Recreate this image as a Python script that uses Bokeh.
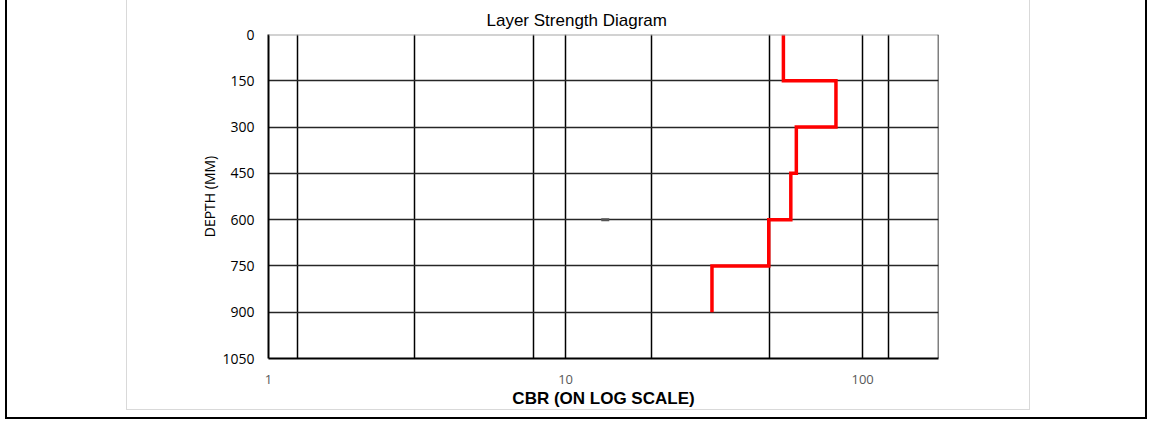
from bokeh.plotting import figure
from bokeh.layouts import column
from bokeh.models import FixedTicker, Span, PrintfTickFormatter, Range1d
from bokeh.embed import file_html
from bokeh.resources import INLINE

# ---- data ----
depth_ticks = [0, 150, 300, 450, 600, 750, 900, 1050]
cbr_tick_labels = [1, 10, 100]
cbr_gridlines = [1.25, 3.1, 7.8, 10, 19.5, 48.7, 100, 122]
layer_top = [0, 150, 300, 450, 600, 750]
layer_bottom = [150, 300, 450, 600, 750, 900]
layer_cbr = [54.1, 81.3, 59.8, 57.3, 48.3, 31.1]
marker_cbr = [13.6]
marker_depth = [600]

WP, HP = 904, 410

p = figure(width=WP, height=HP, x_axis_type="log",
           x_range=Range1d(1, 180), y_range=Range1d(1050, 0),
           output_backend="svg", toolbar_location=None,
           min_border_left=141, min_border_right=93,
           min_border_top=34, min_border_bottom=52,
           title="Layer Strength Diagram")
p.outline_line_color = None
p.background_fill_color = "white"
p.border_fill_color = "white"
p.styles = {"border-left": "1px solid #d9d9d9",
            "border-right": "1px solid #d9d9d9",
            "border-bottom": "1px solid #d9d9d9"}
p.margin = (0, 115, 7, 119)

# title
p.title.text_font = "Liberation Sans"
p.title.text_font_size = "17px"
p.title.text_font_style = "normal"
p.title.text_color = "black"
p.title.align = "left"
p.title.offset = 218
p.title.standoff = 9

# grids
p.xgrid.ticker = FixedTicker(ticks=cbr_gridlines)
p.xgrid.grid_line_color = "black"
p.xgrid.grid_line_width = 1.5
p.ygrid.ticker = FixedTicker(ticks=depth_ticks)
p.ygrid.grid_line_color = "#262626"
p.ygrid.grid_line_width = 1.5

# x axis
xa = p.xaxis[0]
xa.ticker = FixedTicker(ticks=cbr_tick_labels)
xa.formatter = PrintfTickFormatter(format="%d")
xa.major_tick_line_color = None
xa.minor_tick_line_color = None
xa.axis_line_color = "black"
xa.axis_line_width = 2
xa.major_label_text_font = "Open Sans"
xa.major_label_text_font_size = "13px"
xa.major_label_text_color = "#595959"
xa.major_label_standoff = 10
xa.axis_label = "CBR (ON LOG SCALE)"
xa.axis_label_text_font = "Liberation Sans"
xa.axis_label_text_font_size = "17px"
xa.axis_label_text_font_style = "bold"
xa.axis_label_text_color = "black"
xa.axis_label_standoff = 2

# y axis
ya = p.yaxis[0]
ya.ticker = FixedTicker(ticks=depth_ticks)
ya.major_tick_line_color = None
ya.minor_tick_line_color = None
ya.axis_line_color = "black"
ya.axis_line_width = 2
ya.major_label_text_font = "Open Sans"
ya.major_label_text_font_size = "14px"
ya.major_label_text_color = "black"
ya.major_label_standoff = 8
ya.axis_label = "DEPTH (MM)"
ya.axis_label_text_font = "Open Sans"
ya.axis_label_text_font_size = "14px"
ya.axis_label_text_font_style = "normal"
ya.axis_label_text_color = "black"
ya.axis_label_standoff = 0

# frame edges
p.add_layout(Span(location=0, dimension="width", line_color="#a6a6a6", line_width=2))
p.add_layout(Span(location=180, dimension="height", line_color="black", line_width=1.5))

# layer strength step line
xs, ys = [], []
for t, b, c in zip(layer_top, layer_bottom, layer_cbr):
    xs += [c, c]
    ys += [t, b]
p.line(xs, ys, line_color="#ff0000", line_width=3.5, line_join="miter")

# small marker
p.scatter(marker_cbr, marker_depth, marker="dash", size=8, line_color="#555555", line_width=3)

page = column(p, styles={"border-left": "2px solid black",
                         "border-right": "2px solid black",
                         "border-bottom": "2px solid black"})
page.margin = (0, 0, 0, 5)

open("out.html", "w").write(file_html(page, INLINE))
